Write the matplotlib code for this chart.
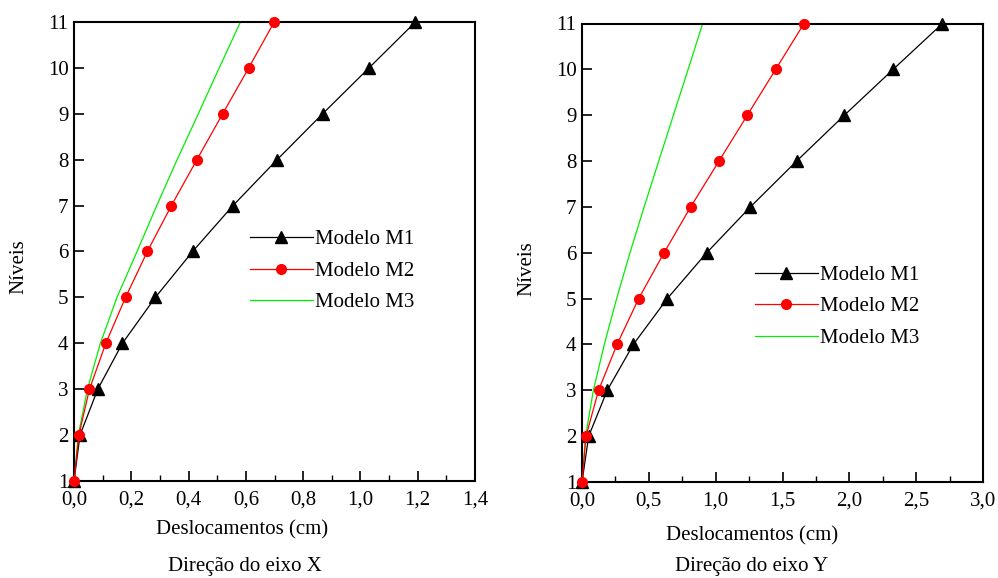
import matplotlib
matplotlib.use("Agg")
import matplotlib.pyplot as plt
from matplotlib.ticker import MultipleLocator, FuncFormatter

plt.rcParams['font.family'] = ['Liberation Serif', 'DejaVu Serif']

niveis = [1, 2, 3, 4, 5, 6, 7, 8, 9, 10, 11]

# Direção do eixo X
x_m1 = [0.0, 0.021, 0.083, 0.169, 0.284, 0.414, 0.555, 0.709, 0.868, 1.030, 1.192]
x_m2 = [0.0, 0.017, 0.054, 0.111, 0.180, 0.256, 0.340, 0.429, 0.519, 0.610, 0.699]
x_m3 = [0.0, 0.015, 0.047, 0.092, 0.150, 0.220, 0.289, 0.360, 0.434, 0.507, 0.581]

# Direção do eixo Y
y_m1 = [0.0, 0.050, 0.189, 0.384, 0.638, 0.933, 1.260, 1.606, 1.963, 2.328, 2.697]
y_m2 = [0.0, 0.030, 0.124, 0.262, 0.424, 0.614, 0.813, 1.025, 1.237, 1.449, 1.661]
y_m3 = [0.0, 0.027, 0.085, 0.167, 0.259, 0.359, 0.465, 0.574, 0.684, 0.794, 0.903]

labels = ["Modelo M1", "Modelo M2", "Modelo M3"]

fig = plt.figure(figsize=(9.98, 5.78), dpi=100)
axL = fig.add_axes([74/998, 1-481/578, 401/998, 459/578])
axR = fig.add_axes([582/998, 1-482/578, 401/998, 458.5/578])

comma = FuncFormatter(lambda v, p: f"{v:.1f}".replace('.', ','))

def setup(ax, xs, xmax, major, minor, leg_anchor):
    m1, m2, m3 = xs
    ax.plot(m1, niveis, color='black', lw=0.9, marker='^', ms=8, label=labels[0], clip_on=False, zorder=3)
    ax.plot(m2, niveis, color='#ff0000', lw=0.9, marker='o', ms=7, label=labels[1], clip_on=False, zorder=4)
    ax.plot(m3, niveis, color='#00ee00', lw=0.9, label=labels[2], clip_on=False, zorder=2)
    ax.set_xlim(0, xmax)
    ax.set_ylim(1, 11)
    ax.xaxis.set_major_locator(MultipleLocator(major))
    ax.xaxis.set_minor_locator(MultipleLocator(minor))
    ax.xaxis.set_major_formatter(comma)
    ax.yaxis.set_major_locator(MultipleLocator(1))
    ax.tick_params(axis='both', which='major', direction='in', length=7, width=1.2, labelsize=15)
    ax.tick_params(axis='x', which='minor', direction='in', length=4, width=1.0)
    ax.tick_params(axis='x', pad=7)
    ax.tick_params(axis='y', pad=4)
    for s in ax.spines.values():
        s.set_linewidth(1.5)
    ax.set_ylabel("Níveis", fontsize=15)
    ax.yaxis.set_label_coords(-0.115, 0.466)
    ax.legend(loc='center left', bbox_to_anchor=leg_anchor, bbox_transform=fig.transFigure,
              frameon=False, fontsize=15, handlelength=3.0, handletextpad=0.1,
              labelspacing=0.57, borderpad=0, borderaxespad=0)

setup(axL, (x_m1, x_m2, x_m3), 1.4, 0.2, 0.1, (250/998, 1-271/578))
setup(axR, (y_m1, y_m2, y_m3), 3.0, 0.5, 0.25, (755/998, 1-306.7/578))

fig.text(242/998, 1-530/578, "Deslocamentos (cm)", ha='center', va='center', fontsize=15)
fig.text(245/998, 1-566/578, "Direção do eixo X", ha='center', va='center', fontsize=15)
fig.text(752/998, 1-536/578, "Deslocamentos (cm)", ha='center', va='center', fontsize=15)
fig.text(752/998, 1-567/578, "Direção do eixo Y", ha='center', va='center', fontsize=15)

fig.savefig("out.png", dpi=100)
